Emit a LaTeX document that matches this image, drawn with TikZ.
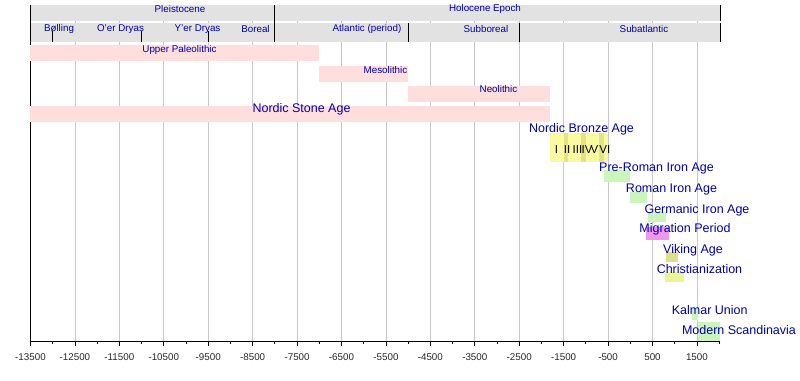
\documentclass[tikz,border=0pt]{standalone}
\usepackage{fontspec}
\setmainfont{Liberation Sans}
\definecolor{epochgray}{RGB}{226,226,226}
\definecolor{gridgray}{RGB}{200,200,200}
\definecolor{labelblue}{RGB}{0,0,170}
\definecolor{stonepink}{RGB}{255,222,222}
\definecolor{bronzeyellow}{RGB}{250,250,160}
\definecolor{bronzedark}{RGB}{228,228,135}
\definecolor{irongreen}{RGB}{204,245,190}
\definecolor{migrationpink}{RGB}{240,150,240}
\definecolor{vikingolive}{RGB}{222,222,140}
\definecolor{christyellow}{RGB}{234,246,150}

\begin{document}
\begin{tikzpicture}[
    x=0.04443pt, y=-1pt,
    epochbar/.style={fill=epochgray},
    gridline/.style={draw=gridgray, line width=0.8pt},
    boundary/.style={draw=black, line width=0.8pt},
    smalllabel/.style={text=labelblue, font=\fontsize{9.8}{11}\selectfont, inner sep=0pt},
    biglabel/.style={text=labelblue, font=\fontsize{12.5}{14}\selectfont, inner sep=0pt},
    ticklabel/.style={text=black!85, font=\fontsize{9.8}{11}\selectfont, inner sep=0pt},
    romanlabel/.style={text=black, font=\fontsize{11.5}{13}\selectfont, inner sep=0pt, anchor=west}
]
\useasboundingbox (-14186.5,0) rectangle (3819.5,381);

\foreach \yr in {-12500,-11500,...,1500}
    \draw[gridline] (\yr,5) -- (\yr,341);

\fill[epochbar] (-13500,5) rectangle (-8000,21);
\fill[epochbar] (-8000,5) rectangle (2020,21);
\fill[epochbar] (-13500,23) rectangle (2020,42);

\draw[boundary] (-13500,5) -- (-13500,341.3);
\draw[boundary] (-8000,5) -- (-8000,42);
\draw[boundary] (2020,5) -- (2020,21);
\draw[boundary] (2020,23) -- (2020,42);
\foreach \yr in {-5000,-2500}
    \draw[boundary] (\yr,23) -- (\yr,42);
\foreach \yr in {-13000,-11000,-9500}
    \draw[boundary] (\yr,31) -- (\yr,42);

\node[smalllabel] (pleistocene) at (-10135,9.3) {Pleistocene};
\node[smalllabel] (holocene) at (-3270,9.3) {Holocene Epoch};
\node[smalllabel] (bolling) at (-12858,29.3) {Bølling};
\node[smalllabel] (olderdryas) at (-11474,29.3) {O'er Dryas};
\node[smalllabel] (youngerdryas) at (-9741,29.3) {Y'er Dryas};
\node[smalllabel] (boreal) at (-8436,29.3) {Boreal};
\node[smalllabel] (atlantic) at (-5926,29.3) {Atlantic (period)};
\node[smalllabel] (subboreal) at (-3248,29.3) {Subboreal};
\node[smalllabel] (subatlantic) at (308,29.3) {Subatlantic};

\fill[stonepink] (-13500,45) rectangle (-7000,61);
\fill[stonepink] (-7000,65.7) rectangle (-5000,81.7);
\fill[stonepink] (-5000,85.7) rectangle (-1800,101.7);
\fill[stonepink] (-13500,106) rectangle (-1800,121.7);
\node[smalllabel] (paleolithic) at (-10146,49.5) {Upper Paleolithic};
\node[smalllabel] (mesolithic) at (-5510,69.5) {Mesolithic};
\node[smalllabel] (neolithic) at (-2967,89.5) {Neolithic};
\node[biglabel] (stoneage) at (-7400,109.5) {Nordic Stone Age};

\fill[bronzeyellow] (-1800,133) rectangle (-500,162);
\foreach \yr in {-1500,-1100,-700}
    \fill[bronzedark] (\yr,133) rectangle ++(100,29);
\node[biglabel] (bronzeage) at (-1098,129) {Nordic Bronze Age};
\foreach \yr/\num [count=\i] in {-1700/I,-1500/II,-1300/III,-1100/IV,-900/V,-700/VI}
    \node[romanlabel] (period\i) at (\yr,149.7) {\num};

\fill[irongreen] (-600,170) rectangle (0,182);
\fill[irongreen] (0,192) rectangle (375,203);
\fill[irongreen] (400,212) rectangle (800,222);
\fill[migrationpink] (350,227) rectangle (880,240);
\fill[vikingolive] (793,252) rectangle (1066,262);
\fill[christyellow] (790,272) rectangle (1200,282);
\fill[irongreen] (1397,308) rectangle (1523,320);
\fill[irongreen] (1523,322) rectangle (2020,341);

\node[biglabel] (preroman) at (590,169) {Pre-Roman Iron Age};
\node[biglabel] (roman) at (927,190) {Roman Iron Age};
\node[biglabel] (germanic) at (1501,210) {Germanic Iron Age};
\node[biglabel] (migration) at (1231,229.5) {Migration Period};
\node[biglabel] (viking) at (1411,250.5) {Viking Age};
\node[biglabel] (christian) at (1557,269.5) {Christianization};
\node[biglabel] (kalmar) at (1787,310) {Kalmar Union};
\node[biglabel] (modern) at (2446,330) {Modern Scandinavia};

\draw[boundary] (-13500,341.3) -- (2020,341.3);
\foreach \yr in {-13000,-12000,...,2000}
    \draw[boundary] (\yr,341.3) -- (\yr,344.3);
\foreach \yr [count=\i] in {-13500,-12500,...,1500} {
    \draw[boundary] (\yr,341.3) -- (\yr,346.5);
    \node[ticklabel] (tick\i) at (\yr,356.7) {\yr};
}
\end{tikzpicture}
\end{document}
